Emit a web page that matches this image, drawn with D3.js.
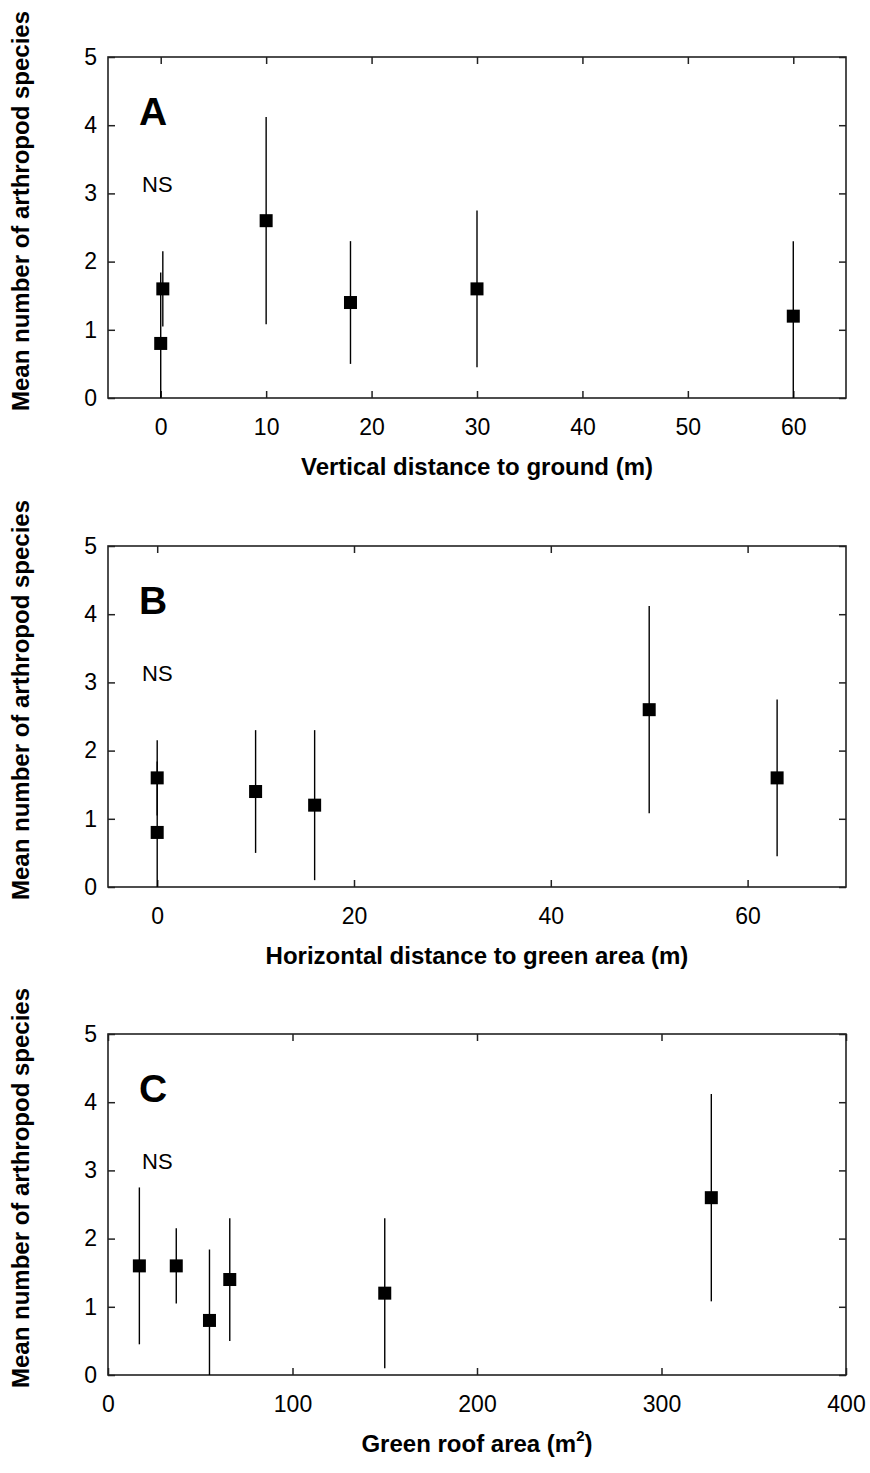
<!DOCTYPE html>
<html>
<head>
<meta charset="utf-8">
<script src="https://cdn.jsdelivr.net/npm/d3@7"></script>
<style>
  body { margin: 0; background: #fff; }
  svg { display: block; font-family: Arial, "Liberation Sans", sans-serif; }
  .tick line { stroke: #222; stroke-width: 1.5; }
  .domain { display: none; }
</style>
</head>
<body>
<svg id="chart"></svg>
<script>
// six sites, same means in every panel
const means = [0.8, 1.6, 2.6, 1.4, 1.6, 1.2];
const upperBar = [1.84, 2.15, 4.12, 2.3, 2.75, 2.3];
const lowerBarA = [0, 1.05, 1.08, 0.5, 0.45, 0];
const lowerBarBC = [0, 1.05, 1.08, 0.5, 0.45, 0.1];

const xVertical = [0, 0.2, 10, 18, 30, 60];
const xHorizontal = [0, 0, 50, 10, 63, 16];
const xRoofArea = [55, 37, 327, 66, 17, 150];

const yTicks = [0, 1, 2, 3, 4, 5];
const xTicksA = [0, 10, 20, 30, 40, 50, 60];
const xTicksB = [0, 20, 40, 60];
const xTicksC = [0, 100, 200, 300, 400];

const yTitle = "Mean number of arthropod species";

const panels = [
    { letter: "A", xs: xVertical, lower: lowerBarA, domain: [-5, 65], ticks: xTicksA,
      title: "Vertical distance to ground (m)", top: 57 },
    { letter: "B", xs: xHorizontal, lower: lowerBarBC, domain: [-5, 70], ticks: xTicksB,
      title: "Horizontal distance to green area (m)", top: 546 },
    { letter: "C", xs: xRoofArea, lower: lowerBarBC, domain: [0, 400], ticks: xTicksC,
      title: "Green roof area (m", sup: "2", titleEnd: ")", top: 1034 }
];

const width = 870;
const height = 1473;
const left = 108;
const right = 846;
const plotH = 341;
const tick = 7;

const svg = d3.select("#chart")
    .attr("width", width)
    .attr("height", height);

function drawPanel(p) {
    const x = d3.scaleLinear().domain(p.domain).range([left, right]);
    const y = d3.scaleLinear().domain([0, 5]).range([p.top + plotH, p.top]);
    const g = svg.append("g");

    // axes, ticks pointing inward on all four sides
    g.append("g")
        .attr("transform", `translate(0,${p.top + plotH})`)
        .call(d3.axisBottom(x).tickValues(p.ticks).tickSize(-tick).tickPadding(21).tickFormat(d3.format("d")))
        .selectAll("text").attr("font-size", 23).attr("fill", "#000");
    g.append("g")
        .attr("transform", `translate(0,${p.top})`)
        .call(d3.axisTop(x).tickValues(p.ticks).tickSize(-tick).tickFormat(""));
    g.append("g")
        .attr("transform", `translate(${left},0)`)
        .call(d3.axisLeft(y).tickValues(yTicks).tickSize(-tick).tickPadding(11).tickFormat(d3.format("d")))
        .selectAll("text").attr("font-size", 23).attr("fill", "#000");
    g.append("g")
        .attr("transform", `translate(${right},0)`)
        .call(d3.axisRight(y).tickValues(yTicks).tickSize(-tick).tickFormat(""));

    g.append("rect")
        .attr("x", left).attr("y", p.top)
        .attr("width", right - left).attr("height", plotH)
        .attr("fill", "none")
        .attr("stroke", "#222")
        .attr("stroke-width", 1.6);

    const pts = means.map((m, i) => ({ x: p.xs[i], m, lo: p.lower[i], hi: upperBar[i] }));

    g.selectAll(".err").data(pts).enter()
        .append("line")
        .attr("x1", d => x(d.x)).attr("x2", d => x(d.x))
        .attr("y1", d => y(d.lo)).attr("y2", d => y(d.hi))
        .attr("stroke", "#000")
        .attr("stroke-width", 1.4);

    const s = 13;
    g.selectAll(".pt").data(pts).enter()
        .append("rect")
        .attr("x", d => x(d.x) - s / 2)
        .attr("y", d => y(d.m) - s / 2)
        .attr("width", s).attr("height", s)
        .attr("fill", "#000");

    g.append("text")
        .attr("x", 139).attr("y", p.top + 68)
        .attr("font-size", 39).attr("font-weight", "bold")
        .text(p.letter);

    g.append("text")
        .attr("x", 142).attr("y", p.top + 135)
        .attr("font-size", 22)
        .text("NS");

    const xt = g.append("text")
        .attr("x", (left + right) / 2).attr("y", p.top + plotH + 77)
        .attr("text-anchor", "middle")
        .attr("font-size", 24).attr("font-weight", "bold")
        .text(p.title);
    if (p.sup) {
        xt.append("tspan").attr("dy", -11).attr("font-size", 15).text(p.sup);
        xt.append("tspan").attr("dy", 11).text(p.titleEnd);
    }

    g.append("text")
        .attr("transform", `translate(29,${p.top + 154}) rotate(-90)`)
        .attr("text-anchor", "middle")
        .attr("font-size", 24).attr("font-weight", "bold")
        .text(yTitle);
}

panels.forEach(drawPanel);
</script>
</body>
</html>
